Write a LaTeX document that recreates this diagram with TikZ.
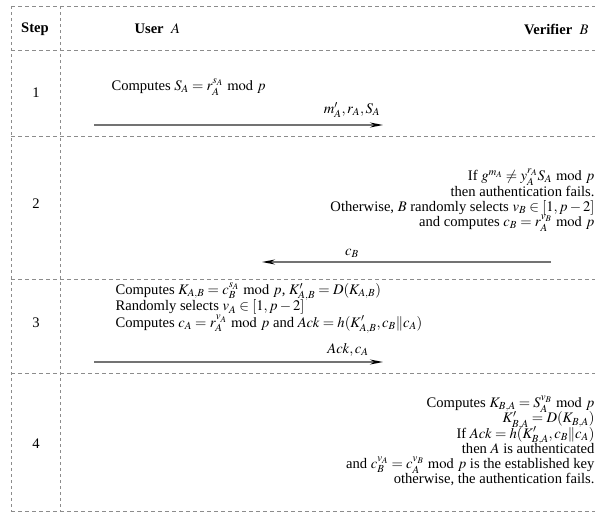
\documentclass[tikz,border=0pt]{standalone}
\usepackage{mathptmx}
\usepackage{fontspec}
\setmainfont{Liberation Serif}
\usetikzlibrary{arrows.meta}
\newcommand\figfont{\fontsize{14.6}{15.3}\selectfont\setlength{\lineskiplimit}{-20pt}}

\begin{document}
\begin{tikzpicture}[x=1pt,y=-1pt,font=\figfont,
  hgrid/.style={black!45,line width=.8pt,dash pattern=on 4pt off 3pt},
  vgrid/.style={black!45,line width=.8pt,dash pattern=on 3pt off 3pt},
  msg/.style={black!55,line width=1.2pt,-{Stealth[length=13pt,width=5pt,black]}}]
\clip (0,0) rectangle (595,514);
\useasboundingbox (0,0) rectangle (595,514);
\foreach \y in {6,50,136,279,373,511}{\draw[hgrid] (11,\y)--(600,\y);}
\foreach \x in {11,60}{\draw[vgrid] (\x,6)--(\x,511);}
\node (step) at (35,29) {\textbf{Step}};
\node[anchor=west] (userA) at (131,29) {\textbf{User}\ \ $A$};
\node[anchor=east] (verB) at (592,29) {\textbf{Verifier}\ \ $B$};
\foreach \n/\y in {1/93,2/204,3/323,4/444}{\node (num\n) at (36,\y) {\n};}
% step 1
\node[anchor=west] (sA) at (108,87) {Computes $S_A=r_A^{s_A} \bmod p$};
\coordinate (a1) at (94,125);
\coordinate (b1) at (383,125);
\draw[msg] (a1)--(b1);
\node (m1) at (352,110) {$m'_A,r_A,S_A$};
% step 2
\node[anchor=east,align=right] (chkB) at (598,200) {If $g^{m_A}\neq y_A^{r_A}S_A \bmod p$\\
  then authentication fails.\\
  Otherwise, $B$ randomly selects $v_B\in[1,p-2]$\\
  and computes $c_B=r_A^{v_B} \bmod p$};
\coordinate (b2) at (551,262);
\coordinate (a2) at (262,262);
\draw[msg] (b2)--(a2);
\node (m2) at (352,253) {$c_B$};
% step 3
\node[anchor=west,align=left] (keyA) at (112,308) {Computes $K_{A,B}=c_B^{s_A} \bmod p$, $K'_{A,B}=D(K_{A,B})$\\[1pt]
  Randomly selects $v_A\in[1,p-2]$\\[1pt]
  Computes $c_A=r_A^{v_A} \bmod p$ and $Ack=h(K'_{A,B},c_B\|c_A)$};
\coordinate (a3) at (94,362);
\coordinate (b3) at (383,362);
\draw[msg] (a3)--(b3);
\node (m3) at (348,350) {$Ack,c_A$};
% step 4
\node[anchor=east,align=right] (keyB) at (598,441) {Computes $K_{B,A}=S_A^{v_B} \bmod p$\\
  $K'_{B,A}=D(K_{B,A})$\\
  If $Ack=h(K'_{B,A},c_B\|c_A)$\\
  then $A$ is authenticated\\
  and $c_B^{v_A}=c_A^{v_B} \bmod p$ is the established key\\
  otherwise, the authentication fails.};
\end{tikzpicture}
\end{document}
